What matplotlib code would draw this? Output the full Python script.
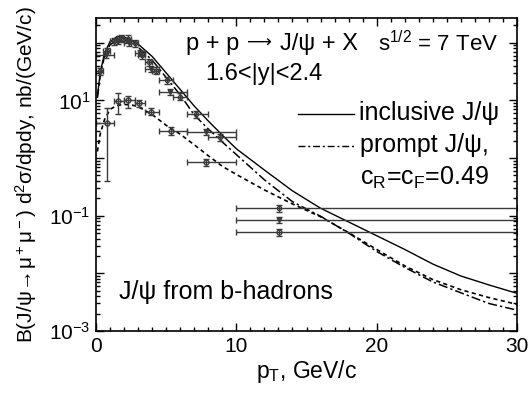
import matplotlib
matplotlib.use("Agg")
import matplotlib.pyplot as plt
from matplotlib.lines import Line2D
from matplotlib.ticker import LogLocator, FixedLocator, MultipleLocator, NullFormatter
import numpy as np

plt.rcParams['font.family'] = ['Liberation Sans', 'DejaVu Sans']
plt.rcParams['mathtext.fontset'] = 'custom'
plt.rcParams['mathtext.rm'] = 'Liberation Sans'
plt.rcParams['mathtext.it'] = 'Liberation Sans'
plt.rcParams['mathtext.default'] = 'regular'

# model curves
curve_pt = [0.1, 0.3, 0.6, 1.0, 1.5, 2.0, 2.5, 3.0, 4.0, 5.0, 6.0, 7.0, 8.0, 9.0,
            10, 12, 14, 16, 18, 20, 22, 24, 26, 28, 30]
incl_curve = [12, 30, 65, 105, 128, 125, 112, 95, 58, 30, 15.5, 8.0, 4.4, 2.5,
              1.45, 0.62, 0.27, 0.135, 0.078, 0.045, 0.026, 0.0145, 0.009, 0.0063, 0.0045]
prompt_curve = [11, 27, 58, 92, 113, 112, 100, 84, 50, 25, 12.5, 5.6, 3.2, 1.9,
                1.15, 0.42, 0.175, 0.098, 0.05, 0.024, 0.0127, 0.0071, 0.0046, 0.0030, 0.0023]
b_curve = [1.3, 2.6, 4.6, 7.0, 8.2, 8.5, 8.4, 7.8, 5.7, 3.7, 2.6, 1.7, 1.1, 0.72,
           0.52, 0.28, 0.16, 0.096, 0.051, 0.026, 0.0135, 0.0078, 0.0052, 0.0038, 0.0029]

# inclusive data
incl_pt = [0.3, 0.75, 1.25, 1.75, 2.25, 2.75, 3.25, 3.75, 4.25, 5.04, 5.99, 7.13, 8.84, 13.06]
incl_lo = [0, 0.5, 1.0, 1.5, 2.0, 2.5, 3.0, 3.5, 4.0, 4.5, 5.5, 6.5, 8.0, 10.0]
incl_hi = [0.5, 1.0, 1.5, 2.0, 2.5, 3.0, 3.5, 4.0, 4.5, 5.5, 6.5, 8.0, 10.0, 30.0]
incl_val = [32, 72, 108, 122, 118, 98, 62, 46, 33, 22.7, 11.6, 5.75, 2.29, 0.135]

# prompt data
prompt_pt = [0.7, 1.6, 2.35, 3.1, 3.95, 5.27, 7.84, 13.06]
prompt_lo = [0, 1.25, 2.0, 2.75, 3.5, 4.5, 6.5, 10.0]
prompt_hi = [1.25, 2.0, 2.75, 3.5, 4.5, 6.5, 10.0, 30.0]
prompt_val = [62, 108, 100, 66, 35, 14.2, 2.87, 0.084]

# J/psi from b-hadrons data
b_pt = [0.76, 1.59, 2.3, 3.06, 3.92, 5.35, 7.84, 13.06]
b_val = [4.0, 9.8, 10.2, 8.9, 6.4, 3.0, 0.86, 0.052]
b_err_dn = [3.6, 4.0, 2.9, 1.3, 0.9, 0.5, 0.12, 0.008]
b_err_up = [3.4, 3.9, 1.8, 1.4, 1.0, 0.5, 0.12, 0.008]

fig = plt.figure(figsize=(5.31, 4.0), dpi=100)
ax = fig.add_axes([96 / 531, 1 - 331 / 400, 421 / 531, 313 / 400])

ax.plot(curve_pt, incl_curve, color='black', lw=1.0)
ax.plot(curve_pt, prompt_curve, color='black', lw=1.1, ls=(0, (6, 2, 1.5, 2)))
ax.plot(curve_pt, b_curve, color='black', lw=1.2, ls=(0, (2.5, 2)))

ecol = '#3a3a3a'
x = np.array(incl_pt)
ax.errorbar(x, incl_val, xerr=[x - incl_lo, np.array(incl_hi) - x],
            yerr=np.array(incl_val) * 0.14, fmt='o', ms=3, mfc='none', mec=ecol,
            ecolor=ecol, elinewidth=1, capsize=2)
x = np.array(prompt_pt)
ax.errorbar(x, prompt_val, xerr=[x - prompt_lo, np.array(prompt_hi) - x],
            yerr=np.array(prompt_val) * 0.12, fmt='v', ms=3, mfc=ecol, mec=ecol,
            ecolor=ecol, elinewidth=1, capsize=2)
x = np.array(b_pt)
ax.errorbar(x, b_val, xerr=[x - prompt_lo, np.array(prompt_hi) - x],
            yerr=[b_err_dn, b_err_up], fmt='o', ms=3.5, mfc='none', mec=ecol,
            ecolor=ecol, elinewidth=1, capsize=2.5)

ax.set_yscale('log')
ax.set_xlim(0, 30)
ax.set_ylim(1e-3, 10 ** 2.43)
ax.xaxis.set_major_locator(MultipleLocator(10))
ax.xaxis.set_minor_locator(MultipleLocator(1))
ax.yaxis.set_major_locator(FixedLocator([1e-3, 1e-2, 1e-1, 1, 10, 100]))
ax.yaxis.set_minor_locator(LogLocator(base=10, subs=np.arange(2, 10), numticks=20))
ax.yaxis.set_minor_formatter(NullFormatter())
ax.set_yticklabels([r'$10^{-3}$', '', r'$10^{-1}$', '', r'$10^{1}$', ''])
ax.tick_params(which='both', direction='in', top=True, right=True, width=1)
ax.tick_params(which='major', length=6, labelsize=15, pad=4)
ax.tick_params(which='minor', length=3)
for s in ax.spines.values():
    s.set_linewidth(1.2)

ax.set_xlabel(r'p$_T$, GeV/c', fontsize=16.5, labelpad=2)
ax.set_ylabel(r'B(J/ψ$\!\rightarrow\!$μ$^+$μ$^-$) d$^2$σ/dpdy, nb/(GeV/c)', fontsize=15,
              labelpad=7)

fs = 18
# reaction label: "p + p", long arrow, "J/psi + X"
t1 = fig.text(186 / 531, 1 - 44 / 400, 'p + p', fontsize=17, va='center')
t2 = ax.annotate('\u27f6', xy=(1, 0.5), xycoords=t1, xytext=(8, 1), textcoords='offset pixels',
                 fontsize=12.5, va='center', ha='left', annotation_clip=False)
ax.annotate('J/ψ + X', xy=(1, 0.5), xycoords=t2, xytext=(8, -1), textcoords='offset pixels',
            fontsize=17, va='center', ha='left', annotation_clip=False)
fig.text(378 / 531, 1 - 44 / 400, r's$^{1/2}$ = 7 TeV', fontsize=16, va='center')
fig.text(205 / 531, 1 - 74 / 400, '1.6<|y|<2.4', fontsize=17, va='center')
fig.text(359 / 531, 1 - 113 / 400, 'inclusive J/ψ', fontsize=fs, va='center')
fig.text(360 / 531, 1 - 145 / 400, 'prompt J/ψ,', fontsize=fs, va='center')
fig.text(360 / 531, 1 - 178 / 400, r'c$_R$=c$_F$=0.49', fontsize=fs, va='center')
fig.text(119 / 531, 1 - 292 / 400, 'J/ψ from b-hadrons', fontsize=fs, va='center')

fig.add_artist(Line2D([298 / 531, 354 / 531], [1 - 114 / 400] * 2, color='black', lw=1.0))
fig.add_artist(Line2D([298 / 531, 354 / 531], [1 - 146 / 400] * 2, color='black', lw=1.0,
                      ls=(0, (5, 2, 1.5, 2))))

fig.savefig('out.png', dpi=100)
